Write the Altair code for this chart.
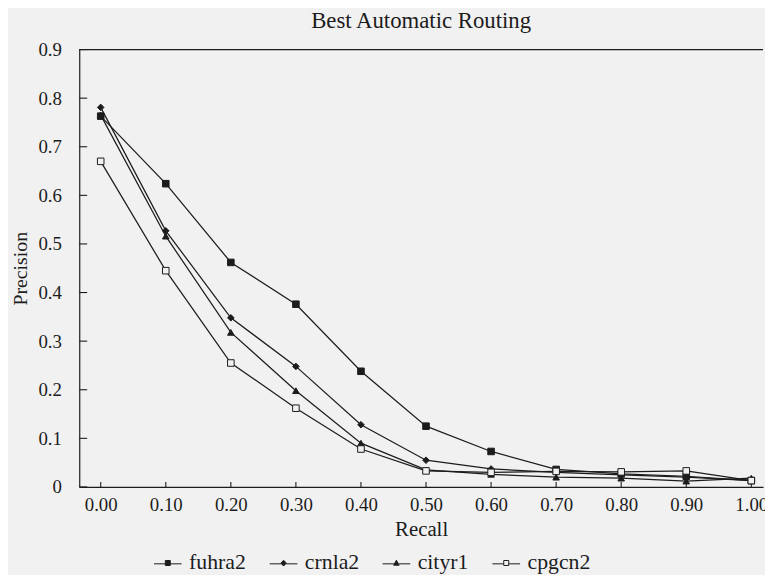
import altair as alt
import pandas as pd

# ---- data ----
recall = [0.00, 0.10, 0.20, 0.30, 0.40, 0.50, 0.60, 0.70, 0.80, 0.90, 1.00]
fuhra2 = [0.763, 0.624, 0.462, 0.376, 0.238, 0.125, 0.073, 0.036, 0.027, 0.022, 0.013]
crnla2 = [0.781, 0.527, 0.348, 0.248, 0.128, 0.055, 0.037, 0.030, 0.025, 0.020, 0.013]
cityr1 = [0.765, 0.516, 0.318, 0.198, 0.090, 0.035, 0.026, 0.020, 0.018, 0.012, 0.018]
cpgcn2 = [0.670, 0.445, 0.255, 0.162, 0.078, 0.033, 0.030, 0.032, 0.031, 0.033, 0.013]
series_names = ["fuhra2", "crnla2", "cityr1", "cpgcn2"]
x_tick_values = [0.0, 0.1, 0.2, 0.3, 0.4, 0.5, 0.6, 0.7, 0.8, 0.9, 1.0]
y_tick_values = [0.0, 0.1, 0.2, 0.3, 0.4, 0.5, 0.6, 0.7, 0.8, 0.9]

series_values = [fuhra2, crnla2, cityr1, cpgcn2]
rows = []
for name, vals in zip(series_names, series_values):
    for r, p in zip(recall, vals):
        rows.append({"recall": r, "precision": p, "series": name})
df = pd.DataFrame(rows)
xt = pd.DataFrame({"recall": x_tick_values})
yt = pd.DataFrame({"precision": y_tick_values})
top_df = pd.DataFrame({"precision": [0.9]})

FONT = "Liberation Serif, Times New Roman, serif"
BG = "#f1f1f1"
INK = "#1c1c1c"
W, H = 691, 442

x_scale = alt.Scale(domain=[-0.033, 1.018], nice=False, zero=False)
y_scale = alt.Scale(domain=[0, 0.9], nice=False, zero=False)

x_axis = alt.Axis(values=x_tick_values, format=".2f", title="Recall", ticks=False, grid=False,
                  domainColor=INK, domainWidth=1.2, labelPadding=9, labelFontSize=19,
                  labelFont=FONT, labelColor=INK, titleFont=FONT, titleFontSize=21,
                  titleFontWeight="normal", titleColor=INK, titlePadding=4,
                  labelFlush=False, labelOverlap=False)
y_axis = alt.Axis(values=y_tick_values,
                  labelExpr="datum.value == 0 ? '0' : format(datum.value, '.1f')",
                  title="Precision", ticks=False, grid=False, domainColor=INK, domainWidth=1.2,
                  labelPadding=18, labelFontSize=19, labelFont=FONT, labelColor=INK,
                  titleFont=FONT, titleFontSize=20, titleFontWeight="normal", titleColor=INK,
                  titlePadding=8, labelFlush=False, labelOverlap=False)

base = alt.Chart(df)

lines = base.mark_line(color=INK, strokeWidth=1.25).encode(
    x=alt.X("recall:Q", scale=x_scale, axis=x_axis),
    y=alt.Y("precision:Q", scale=y_scale, axis=y_axis),
    detail="series:N",
)

points = base.mark_point(filled=True, size=44, opacity=1, stroke=INK, strokeWidth=1).encode(
    x=alt.X("recall:Q", scale=x_scale),
    y=alt.Y("precision:Q", scale=y_scale),
    shape=alt.Shape("series:N", scale=alt.Scale(domain=series_names,
                    range=["square", "diamond", "triangle-up", "square"]), legend=None),
    fill=alt.Fill("series:N", scale=alt.Scale(domain=series_names,
                  range=[INK, INK, INK, BG]), legend=None),
)

line_part = "M-1,0.14H-0.18M0.18,0.14H1"
legend_paths = [
    line_part + "M-0.18,-0.1H0.18V0.26H-0.18Z",
    line_part + "M0,-0.12L0.2,0.09L0,0.3L-0.2,0.09Z",
    line_part + "M0,-0.12L0.2,0.24L-0.2,0.24Z",
    line_part + "M-0.18,-0.1H0.18V0.26H-0.18Z",
]
leg = alt.Legend(orient="none", legendX=75, legendY=503, direction="horizontal", columns=4,
                 title=None, labelFont=FONT, labelFontSize=22, labelColor=INK,
                 symbolSize=784, symbolStrokeWidth=1, symbolStrokeColor=INK,
                 symbolOpacity=1, columnPadding=21, labelOffset=7, padding=0)
legend_layer = base.transform_filter("false").mark_point(
    filled=True, opacity=1, strokeWidth=1).encode(
    shape=alt.Shape("series:N", scale=alt.Scale(domain=series_names, range=legend_paths), legend=leg),
    fill=alt.Fill("series:N", scale=alt.Scale(domain=series_names, range=[INK, INK, INK, BG]), legend=leg),
    stroke=alt.Stroke("series:N", scale=alt.Scale(domain=series_names, range=[INK, INK, INK, INK]), legend=leg),
)

yticks = alt.Chart(yt).mark_rule(color=INK, strokeWidth=1.1).encode(
    y=alt.Y("precision:Q", scale=y_scale), x=alt.value(0), x2=alt.value(8))
xticks = alt.Chart(xt).mark_rule(color=INK, strokeWidth=1.1).encode(
    x=alt.X("recall:Q", scale=x_scale), y=alt.value(H), y2=alt.value(H - 5))
top_rule = alt.Chart(top_df).mark_rule(color=INK, strokeWidth=1.2).encode(
    y=alt.Y("precision:Q", scale=y_scale), x=alt.value(0), x2=alt.value(W))

chart = alt.layer(lines, yticks, xticks, top_rule, points, legend_layer).resolve_scale(
    shape="independent", fill="independent", stroke="independent"
).properties(
    width=W, height=H,
    title=alt.Title("Best Automatic Routing", font=FONT, fontSize=23, fontWeight="normal",
                    color=INK, anchor="middle", offset=8),
    autosize=alt.AutoSizeParams(type="none"),
    padding={"left": 72, "top": 39, "right": 2, "bottom": 86},
    background=BG,
).configure_view(stroke=None)

chart.save("out.html", embed_options={"renderer": "svg", "actions": False})
